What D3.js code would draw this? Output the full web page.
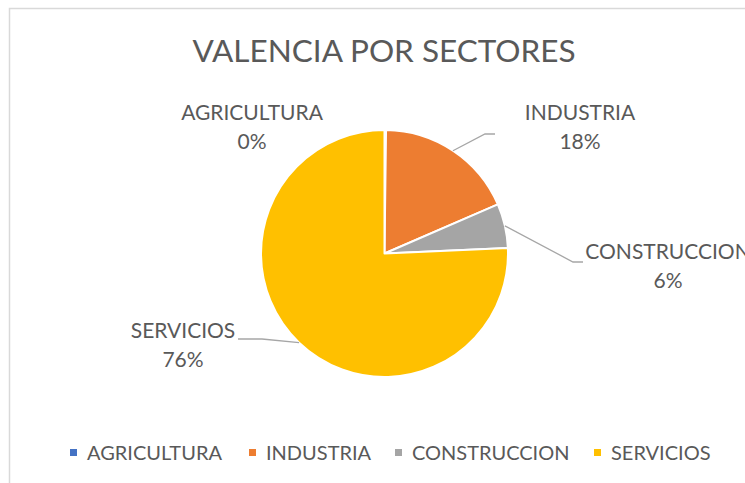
<!DOCTYPE html>
<html>
<head>
<meta charset="utf-8">
<script src="https://cdn.jsdelivr.net/npm/d3@7"></script>
<style>
  html, body { margin: 0; padding: 0; background: #fff; }
  svg { display: block; font-family: Lato, 'Open Sans', sans-serif; }
</style>
</head>
<body>
<svg id="chart" width="745" height="483"></svg>
<script>
const TITLE = 'VALENCIA POR SECTORES';
const categories = ['AGRICULTURA', 'INDUSTRIA', 'CONSTRUCCION', 'SERVICIOS'];
const values = [0.2, 18.3, 5.8, 75.7];
const colors = ['#4472C4', '#ED7D31', '#A5A5A5', '#FFC000'];

const W = 745, H = 483;
const CX = 384.5, CY = 253.5, R = 123.5;
const TEXT = '#595959';
const LINE = '#a6a6a6';
const FS = 21;

// label placement: centre x, first baseline, leader elbow + end (null = no leader)
const LABELS = {
  AGRICULTURA:  { x: 252, y: 120, leader: null },
  INDUSTRIA:    { x: 580, y: 120, leader: [[485, 134], [495, 134]] },
  CONSTRUCCION: { x: 668, y: 259, leader: [[573, 262], [583, 262]] },
  SERVICIOS:    { x: 183, y: 338, leader: [[262, 339], [238, 339]] },
};

const svg = d3.select('#chart');

// chart area border (runs off the right/bottom edge)
svg.append('rect')
  .attr('x', 9.5).attr('y', 8.5)
  .attr('width', W + 20).attr('height', H + 20)
  .attr('fill', 'none').attr('stroke', '#d9d9d9').attr('stroke-width', 1.5);

svg.append('text')
  .attr('x', 384).attr('y', 62)
  .attr('text-anchor', 'middle')
  .attr('fill', TEXT).attr('font-size', 31.5)
  .text(TITLE);

const data = categories.map((c, i) => ({ name: c, value: values[i], color: colors[i] }));
const total = d3.sum(values);

const pie = d3.pie().sort(null).value(d => d.value);
const arc = d3.arc().innerRadius(0).outerRadius(R);
const arcs = pie(data);

const g = svg.append('g').attr('transform', `translate(${CX},${CY})`);
g.selectAll('path')
  .data(arcs)
  .join('path')
  .attr('d', arc)
  .attr('fill', d => d.data.color)
  .attr('stroke', '#fff').attr('stroke-width', 2)
  .attr('stroke-linejoin', 'round');

// leader lines start at the slice's mid angle on the rim
arcs.forEach(a => {
  const L = LABELS[a.data.name];
  if (!L.leader) return;
  const mid = (a.startAngle + a.endAngle) / 2;
  const p0 = [CX + R * Math.sin(mid), CY - R * Math.cos(mid)];
  svg.append('path')
    .attr('d', d3.line()([p0, ...L.leader]))
    .attr('fill', 'none').attr('stroke', LINE).attr('stroke-width', 1.3);
});

const fmt = v => `${Math.round(v / total * 100)}%`;
arcs.forEach(a => {
  const L = LABELS[a.data.name];
  const t = svg.append('text')
    .attr('text-anchor', 'middle')
    .attr('fill', TEXT).attr('font-size', FS);
  t.append('tspan').attr('x', L.x).attr('y', L.y).text(a.data.name);
  t.append('tspan').attr('x', L.x).attr('y', L.y + 29).text(fmt(a.data.value));
});

// legend
const legendX = [70, 249, 395, 594];
const lg = svg.append('g');
data.forEach((d, i) => {
  lg.append('rect')
    .attr('x', legendX[i]).attr('y', 449)
    .attr('width', 7).attr('height', 7)
    .attr('fill', d.color);
  lg.append('text')
    .attr('x', legendX[i] + 17).attr('y', 460)
    .attr('fill', TEXT).attr('font-size', 20)
    .text(d.name);
});
</script>
</body>
</html>
